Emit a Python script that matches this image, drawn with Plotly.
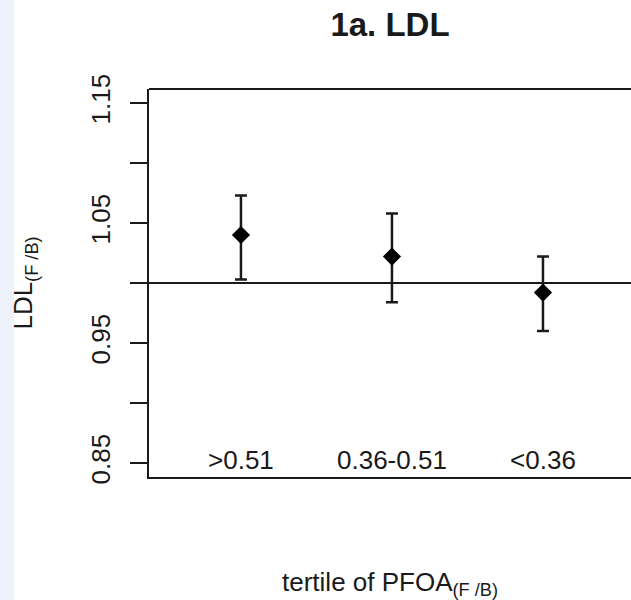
import plotly.graph_objects as go

# ---- data ----
categories = [">0.51", "0.36-0.51", "<0.36"]
ratio = [1.040, 1.022, 0.992]
ci_upper = [1.073, 1.058, 1.022]
ci_lower = [1.003, 0.984, 0.960]
ytick_vals = [0.85, 0.95, 1.05, 1.15]
ytick_text = ["0.85", "0.95", "1.05", "1.15"]
ytick_step = 0.05
label_y = 0.85
ref_y = 1.0

xpos = list(range(1, len(categories) + 1))
err_plus = [u - r for u, r in zip(ci_upper, ratio)]
err_minus = [r - l for r, l in zip(ratio, ci_lower)]

FONT = "Liberation Sans, Arial, sans-serif"
INK = "#1a1a1a"

fig = go.Figure()

fig.add_trace(go.Scatter(
    x=xpos, y=ratio, mode="markers",
    marker=dict(symbol="diamond", size=14, color="black"),
    error_y=dict(type="data", symmetric=False, array=err_plus, arrayminus=err_minus,
                 color=INK, thickness=2.5, width=6),
    showlegend=False, hoverinfo="skip",
))

fig.add_trace(go.Scatter(
    x=xpos, y=[label_y] * len(categories), mode="text",
    text=categories, textposition="middle center",
    textfont=dict(family=FONT, size=26, color=INK),
    showlegend=False, hoverinfo="skip",
))

# reference line at 1
fig.add_shape(type="line", xref="paper", x0=0, x1=1, yref="y", y0=ref_y, y1=ref_y,
              line=dict(color=INK, width=2))
# top border of box (right side is outside the picture)
fig.add_shape(type="line", xref="paper", x0=0, x1=1, yref="paper", y0=1, y1=1,
              line=dict(color=INK, width=2))
# pale strip along the left edge
fig.add_shape(type="rect", xref="paper", yref="paper",
              x0=-149 / 482, x1=(14 - 149) / 482, y0=-123 / 388, y1=489 / 388,
              line=dict(width=0), fillcolor="#EDF2FA", layer="below")

fig.update_layout(
    width=631, height=600,
    margin=dict(l=149, r=0, t=89, b=123),
    paper_bgcolor="white", plot_bgcolor="white",
    font=dict(family=FONT, size=26, color=INK),
    title=dict(text="<b>1a. LDL</b>", x=390 / 631,
               xanchor="center", y=1 - 24 / 600, yanchor="middle",
               font=dict(family=FONT, size=33, color=INK)),
    xaxis=dict(range=[0.391, 3.583], showgrid=False, zeroline=False,
               showline=True, linecolor=INK, linewidth=2,
               ticks="", showticklabels=False,
               title=dict(text="tertile of PFOA<sub>(F /B)</sub>",
                          font=dict(family=FONT, size=26, color=INK), standoff=96)),
    yaxis=dict(range=[0.8383, 1.1617], showgrid=False, zeroline=False,
               showline=True, linecolor=INK, linewidth=2,
               tickmode="array", tickvals=ytick_vals, ticktext=ytick_text,
               ticks="outside", ticklen=17, tickwidth=2, tickcolor=INK,
               minor=dict(ticks="outside", ticklen=17, tickwidth=2, tickcolor=INK,
                          tick0=ytick_vals[0], dtick=ytick_step, showgrid=False),
               tickangle=-90, tickfont=dict(family=FONT, size=26, color=INK),
               ticklabelstandoff=10,
               title=dict(text="LDL<sub>(F /B)</sub>",
                          font=dict(family=FONT, size=26, color=INK), standoff=45)),
)

fig.write_html("out.html")
